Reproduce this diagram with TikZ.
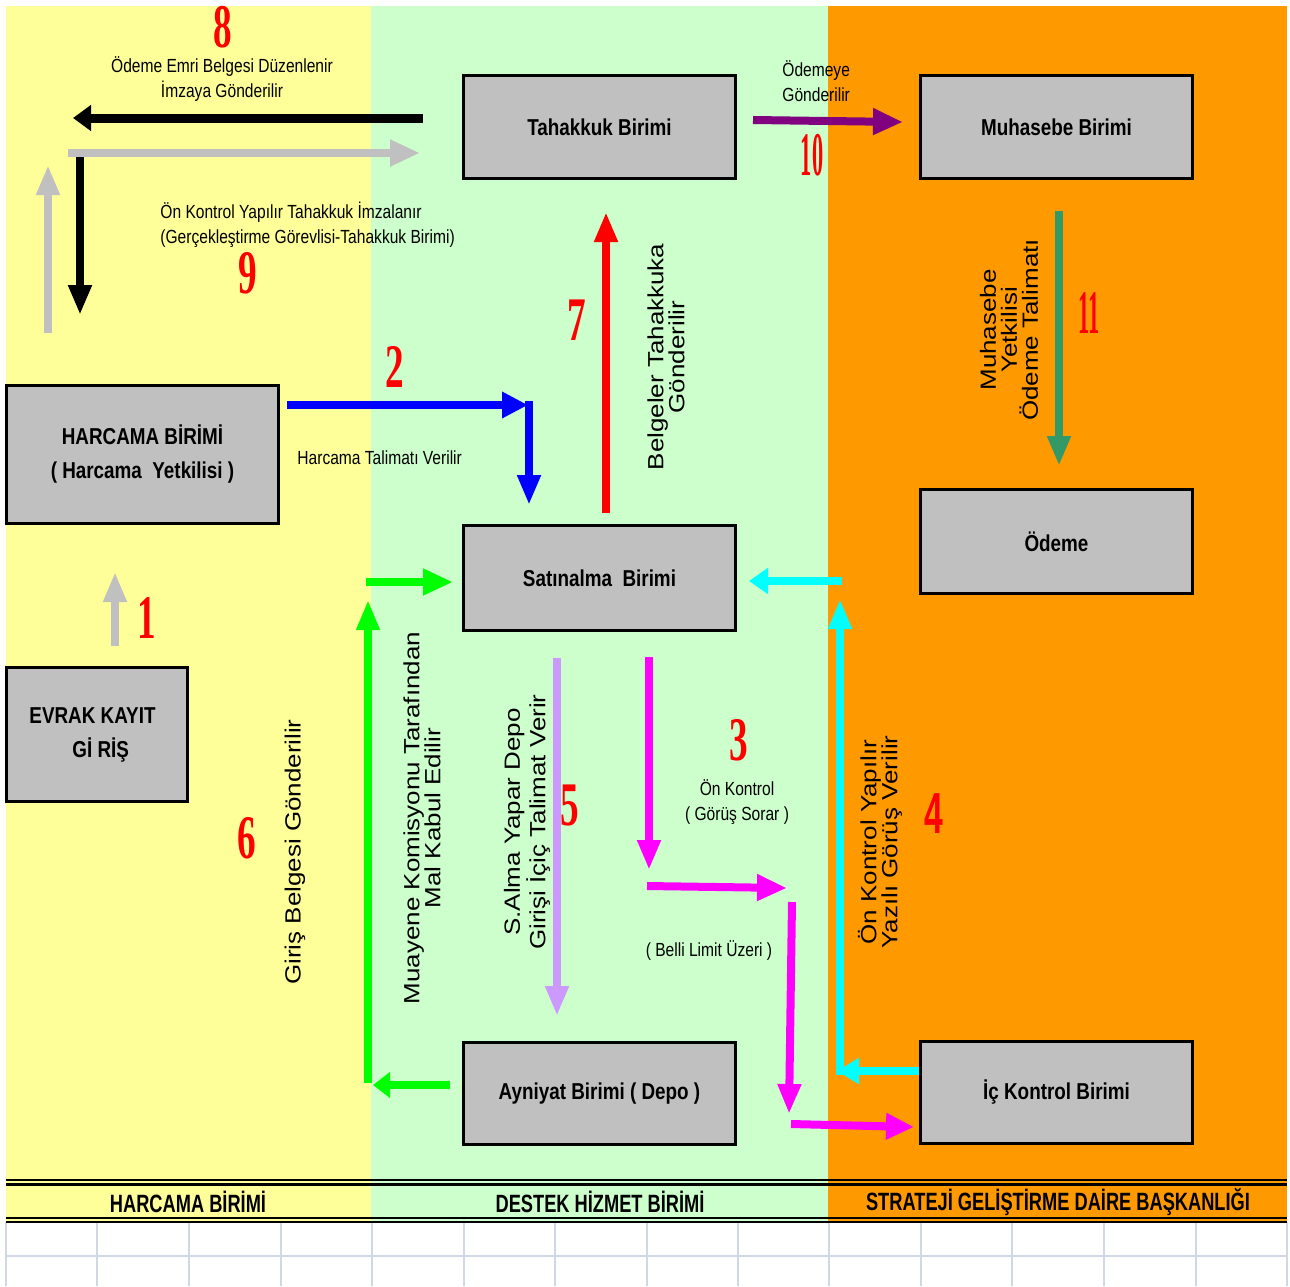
\documentclass[tikz,border=0pt]{standalone}
\usepackage{fontspec}
\setmainfont{Liberation Sans}
\newfontfamily\narrowfont{Liberation Sans}[FakeStretch=0.82]
\newfontfamily\bandfnt{Liberation Sans}[FakeStretch=0.73]
\newfontfamily\widefnt{Liberation Sans}[FakeStretch=1.18]
\newfontfamily\numfnt{Liberation Serif}[FakeStretch=0.6]
\newfontfamily\numfntn{Liberation Serif}[FakeStretch=0.36]
\newfontfamily\numsans{Liberation Sans}[FakeStretch=0.58]
\usetikzlibrary{arrows.meta}
\definecolor{cyel}{HTML}{FFFF99}
\definecolor{cgrn}{HTML}{CCFFCC}
\definecolor{corg}{HTML}{FF9900}
\definecolor{cbox}{HTML}{C0C0C0}
\definecolor{cgrid}{HTML}{D0D7E5}
\definecolor{cpurple}{HTML}{800080}
\definecolor{cteal}{HTML}{339966}
\definecolor{clilac}{HTML}{CC99FF}
\definecolor{cgreen}{HTML}{00FF00}
\definecolor{cgrey}{HTML}{C0C0C0}
\definecolor{cmag}{HTML}{FF00FF}
\definecolor{ccyan}{HTML}{00FFFF}
\definecolor{cblue}{HTML}{0000FF}
\definecolor{cred}{HTML}{FF0000}
\begin{document}
\begin{tikzpicture}[x=0.5pt,y=-0.5pt,
  box/.style={draw=black,line width=1.5pt,fill=cbox,inner sep=0pt,align=center,
    font=\narrowfont\bfseries\fontsize{11.5}{17}\selectfont},
  lab/.style={inner sep=0pt,font=\narrowfont\fontsize{9.5}{12.5}\selectfont},
  rlab/.style={inner sep=0pt,rotate=90,align=center,font=\widefnt\fontsize{11}{10.5}\selectfont},
  num/.style={inner sep=0pt,text=cred,font=\numfnt\bfseries\fontsize{31}{31}\selectfont},
  numn/.style={inner sep=0pt,text=cred,font=\numfntn\bfseries\fontsize{31}{31}\selectfont},
  nums/.style={inner sep=0pt,text=cred,font=\numsans\bfseries\fontsize{29}{29}\selectfont},
  band/.style={inner sep=0pt,font=\bandfnt\bfseries\fontsize{12.5}{14}\selectfont},
  shaft/.style={line width=4pt},
  hhead/.style={-{Triangle[length=15pt,width=12.5pt]}},
  vhead/.style={-{Triangle[length=15pt,width=11pt]}},
  gridln/.style={draw=cgrid,line width=1pt},
  dbl/.style={draw=black,line width=1.25pt}]
\useasboundingbox (0,0) rectangle (1290,1286);
\fill[white] (0,0) rectangle (1290,1286);
% zones
\fill[cyel] (6,6) rectangle (371,1222);
\fill[cgrn] (371,6) rectangle (828,1222);
\fill[corg] (828,6) rectangle (1287,1222);
% grid below
\foreach \gx in {6,97,189,281,372,464,555,647,738,829,921,1012,1104,1196,1287}
  {\draw[gridln] (\gx,1222) -- (\gx,1286);}
\draw[gridln] (6,1256) -- (1287,1256);
% double lines
\draw[dbl] (6,1180) -- (1287,1180);
\draw[dbl] (6,1184.5) -- (1287,1184.5);
\draw[dbl] (6,1218) -- (1287,1218);
\draw[dbl] (6,1222) -- (1287,1222);
% band labels
\node[band] (b1) at (188,1202) {HARCAMA BİRİMİ};
\node[band] (b2) at (600,1202) {DESTEK HİZMET BİRİMİ};
\node[band] (b3) at (1058,1202) {STRATEJİ GELİŞTİRME DAİRE BAŞKANLIĞI};
% boxes
\node[box,minimum width=136pt,minimum height=51.5pt] (tah) at (599.5,127) {Tahakkuk Birimi};
\node[box,minimum width=136pt,minimum height=51.5pt] (muh) at (1056.5,127) {Muhasebe Birimi};
\node[box,minimum width=136pt,minimum height=69pt] (har) at (142.5,454.5) {HARCAMA BİRİMİ\\( Harcama \ Yetkilisi )};
\node[box,minimum width=90.5pt,minimum height=67pt,align=left] (evr) at (97,734.5) {EVRAK KAYIT\hspace*{4.5pt}\\\hspace*{21.5pt}Gİ RİŞ};
\node[box,minimum width=136pt,minimum height=52.5pt] (sat) at (599.5,578) {Satınalma \ Birimi};
\node[box,minimum width=136pt,minimum height=51pt] (ayn) at (599.5,1093.5) {Ayniyat Birimi ( Depo )};
\node[box,minimum width=136pt,minimum height=52pt] (ode) at (1056.5,541.5) {Ödeme};
\node[box,minimum width=136pt,minimum height=51pt] (ick) at (1056.5,1092.5) {İç Kontrol Birimi};
% coordinates for arrows
\coordinate (a8s) at (423,118); \coordinate (a8e) at (73,118);
\coordinate (gr1s) at (68,153); \coordinate (gr1e) at (420,153);
\coordinate (bk1s) at (80,153); \coordinate (bk1e) at (80,315);
\coordinate (gu1s) at (48,333); \coordinate (gu1e) at (48,165);
\coordinate (g1s) at (115,646); \coordinate (g1e) at (115,572);
\coordinate (b2s) at (287,405); \coordinate (b2e) at (528,405);
\coordinate (b2vs) at (529,401); \coordinate (b2ve) at (529,505);
\coordinate (r7s) at (606,513); \coordinate (r7e) at (606,212);
\coordinate (gn1s) at (366,582); \coordinate (gn1e) at (453,582);
\coordinate (gn2s) at (368,1083); \coordinate (gn2e) at (368,600);
\coordinate (gn3s) at (450,1085); \coordinate (gn3e) at (373,1085);
\coordinate (l5s) at (557,658); \coordinate (l5e) at (557,1016);
\coordinate (m1s) at (649,657); \coordinate (m1e) at (649,870);
\coordinate (m2s) at (647,886); \coordinate (m2e) at (787,888);
\coordinate (m3s) at (792,902); \coordinate (m3e) at (789,1114);
\coordinate (m4s) at (791,1124); \coordinate (m4e) at (914,1127);
\coordinate (c1s) at (919,1071); \coordinate (c1e) at (837,1071);
\coordinate (c2s) at (840,1075); \coordinate (c2e) at (840,599);
\coordinate (c3s) at (842,581); \coordinate (c3e) at (749,581);
\coordinate (p10s) at (753,120); \coordinate (p10e) at (903,122);
\coordinate (t11s) at (1059,211); \coordinate (t11e) at (1059,466);
% arrows
\draw[shaft,line width=4.5pt,draw=black,-{Triangle[length=9pt,width=12.5pt]}] (a8s) -- (a8e);
\draw[shaft,draw=black,vhead] (bk1s) -- (bk1e);
\draw[shaft,draw=cgrey,hhead] (gr1s) -- (gr1e);
\draw[shaft,draw=cgrey,vhead] (gu1s) -- (gu1e);
\draw[shaft,draw=cgrey,vhead] (g1s) -- (g1e);
\draw[shaft,draw=cblue,-{Triangle[length=13pt,width=12.5pt]}] (b2s) -- (b2e);
\draw[shaft,draw=cblue,vhead] (b2vs) -- (b2ve);
\draw[shaft,draw=cred,vhead] (r7s) -- (r7e);
\draw[shaft,draw=cgreen,hhead] (gn1s) -- (gn1e);
\draw[shaft,line width=3.6pt,draw=cgreen,vhead] (gn2s) -- (gn2e);
\draw[shaft,draw=cgreen,-{Triangle[length=8.5pt,width=12.5pt]}] (gn3s) -- (gn3e);
\draw[shaft,draw=clilac,vhead] (l5s) -- (l5e);
\draw[shaft,draw=cmag,vhead] (m1s) -- (m1e);
\draw[shaft,draw=cmag,hhead] (m2s) -- (m2e);
\draw[shaft,draw=cmag,vhead] (m3s) -- (m3e);
\draw[shaft,draw=cmag,-{Triangle[length=14pt,width=12.5pt]}] (m4s) -- (m4e);
\draw[shaft,draw=ccyan,-{Triangle[length=11pt,width=12.5pt]}] (c1s) -- (c1e);
\draw[shaft,draw=ccyan,vhead] (c2s) -- (c2e);
\draw[shaft,draw=ccyan,-{Triangle[length=9.5pt,width=12.5pt]}] (c3s) -- (c3e);
\draw[shaft,draw=cpurple,hhead] (p10s) -- (p10e);
\draw[shaft,draw=cteal,vhead] (t11s) -- (t11e);
% numbers
\node[num] (n8) at (223,27) {8};
\node[num] (n9) at (248,273) {9};
\node[numn] (n10) at (812,155) {10};
\node[numn] (n11) at (1089,313) {11};
\node[num] (n2) at (395,367) {2};
\node[num] (n7) at (577,320) {7};
\node[num] (n1) at (147,618) {1};
\node[num] (n6) at (247,838) {6};
\node[num] (n5) at (570,805) {5};
\node[num] (n3) at (739,740) {3};
\node[nums] (n4) at (934,814) {4};
% labels
\node[lab,align=center] (l8) at (222,79) {Ödeme Emri Belgesi Düzenlenir\\İmzaya Gönderilir};
\node[lab,align=left,anchor=west] (l9) at (160,225) {Ön Kontrol Yapılır Tahakkuk İmzalanır\\(Gerçekleştirme Görevlisi-Tahakkuk Birimi)};
\node[lab,align=left,anchor=west] (l10) at (782,81) {Ödemeye\\Gönderilir};
\node[lab,anchor=west] (l2) at (297,458) {Harcama Talimatı Verilir};
\node[lab,align=center] (l3) at (737,802) {Ön Kontrol\\( Görüş Sorar )};
\node[lab] (lb) at (709,950) {( Belli Limit Üzeri )};
\node[rlab] (l7) at (666,357) {Belgeler Tahakkuka\\Gönderilir};
\node[rlab] (l11) at (1009,330) {Muhasebe\\Yetkilisi\\Ödeme Talimatı};
\node[rlab] (l6) at (295,852) {Giriş Belgesi Gönderilir};
\node[rlab] (lm) at (422,818) {Muayene Komisyonu Tarafından\\Mal Kabul Edilir};
\node[rlab] (l5) at (527,822) {S.Alma Yapar Depo\\Girişi İçiç Talimat Verir};
\node[rlab] (l4) at (880,842) {Ön Kontrol Yapılır\\Yazılı Görüş Verilir};
\end{tikzpicture}
\end{document}
